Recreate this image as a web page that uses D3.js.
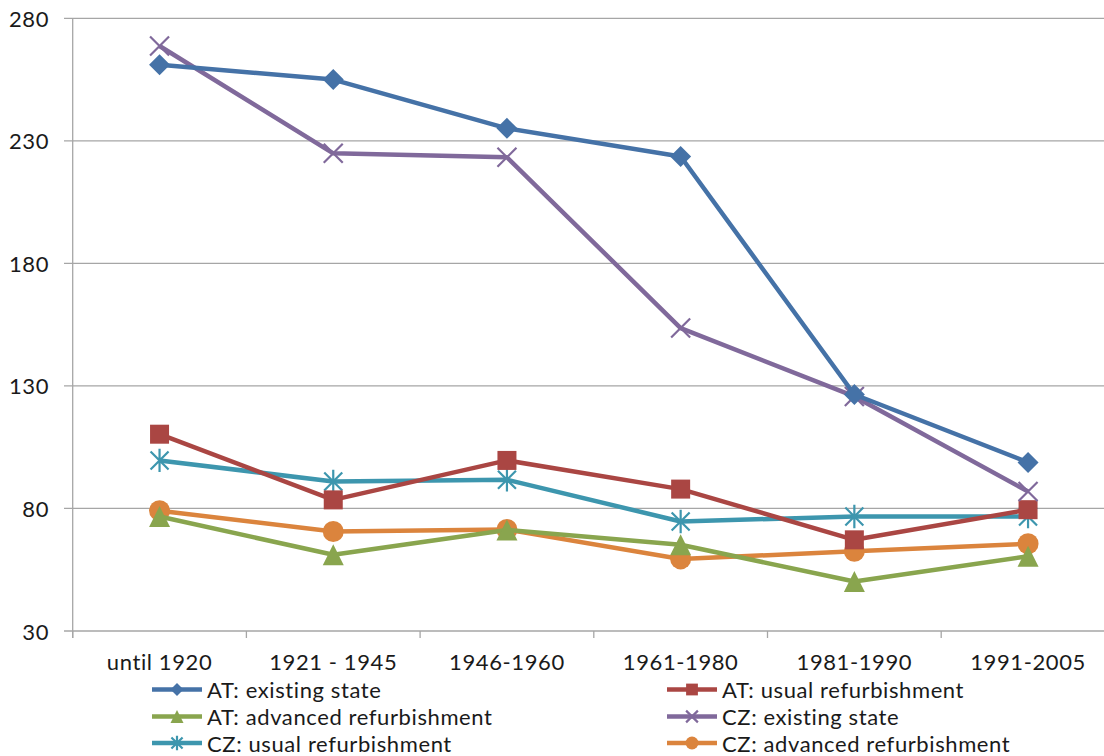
<!DOCTYPE html>
<html>
<head>
<meta charset="utf-8">
<script src="https://cdnjs.cloudflare.com/ajax/libs/d3/7.8.5/d3.min.js"></script>
<style>
  html, body { margin: 0; padding: 0; background: #fff; }
  svg { display: block; font-family: Lato, "Open Sans", sans-serif; }
  svg text { letter-spacing: 0.6px; }
</style>
</head>
<body>
<svg id="chart" width="1104" height="756"></svg>
<script>
// Building age categories
const categories = ["until 1920", "1921 - 1945", "1946-1960", "1961-1980", "1981-1990", "1991-2005"];

// Series values per category
const atExisting = [261.0, 255.0, 235.1, 223.6, 126.5, 98.8];
const atUsual    = [110.3, 83.5, 99.6, 87.9, 67.2, 79.5];
const atAdvanced = [76.7, 61.1, 71.2, 65.2, 50.2, 60.5];
const czExisting = [268.7, 224.9, 223.3, 153.6, 125.7, 86.9];
const czUsual    = [99.6, 91.0, 91.7, 74.7, 76.7, 76.7];
const czAdvanced = [79.1, 70.6, 71.4, 59.4, 62.5, 65.6];

const yTicks = [30, 80, 130, 180, 230, 280];

const series = [
  { name: "AT: existing state",          values: atExisting, color: "#4572A7", marker: "diamond" },
  { name: "AT: usual refurbishment",     values: atUsual,    color: "#AA4643", marker: "square" },
  { name: "AT: advanced refurbishment",  values: atAdvanced, color: "#89A54E", marker: "triangle" },
  { name: "CZ: existing state",          values: czExisting, color: "#80699B", marker: "cross" },
  { name: "CZ: usual refurbishment",     values: czUsual,    color: "#3D96AE", marker: "star" },
  { name: "CZ: advanced refurbishment",  values: czAdvanced, color: "#DB843D", marker: "circle" }
];

// Drawing order (first drawn ends up underneath)
const drawOrder = [5, 2, 4, 1, 3, 0];

const svg = d3.select("#chart");
const left = 72.7, step = 173.7;
const x = d3.scaleBand().domain(categories).range([left, left + step * categories.length]).padding(0);
const y = d3.scaleLinear().domain([30, 280]).range([631, 18.3]);

const gridColor = "#a6a6a6";
const fontSize = 22;

// horizontal gridlines
svg.append("g").selectAll("line").data(yTicks).join("line")
  .attr("x1", 64).attr("x2", 1104)
  .attr("y1", d => y(d)).attr("y2", d => y(d))
  .attr("stroke", gridColor).attr("stroke-width", 1.3);

// y axis line
svg.append("line")
  .attr("x1", left).attr("x2", left)
  .attr("y1", y(280)).attr("y2", y(30) + 7)
  .attr("stroke", gridColor).attr("stroke-width", 1.3);

// y tick labels
svg.append("g").selectAll("text").data(yTicks).join("text")
  .attr("x", 49).attr("y", d => y(d))
  .attr("text-anchor", "end").attr("dominant-baseline", "central")
  .attr("font-size", fontSize).attr("fill", "#1a1a1a")
  .text(d => d);

// x axis tick marks at category boundaries
const bounds = d3.range(categories.length + 1).map(i => left + i * step);
svg.append("g").selectAll("line").data(bounds).join("line")
  .attr("x1", d => d).attr("x2", d => d)
  .attr("y1", y(30)).attr("y2", y(30) + 7)
  .attr("stroke", gridColor).attr("stroke-width", 1.3);

// x labels
svg.append("g").selectAll("text").data(categories).join("text")
  .attr("x", d => x(d) + x.bandwidth() / 2).attr("y", 670)
  .attr("text-anchor", "middle")
  .attr("font-size", fontSize).attr("fill", "#1a1a1a")
  .text(d => d);

// marker shapes
function drawMarker(g, type, color, s) {
  const r = 10.5 * s;
  if (type === "diamond") {
    g.append("path").attr("d", `M0,${-r}L${r},0L0,${r}L${-r},0Z`).attr("fill", color);
  } else if (type === "square") {
    const h = 9.5 * s;
    g.append("rect").attr("x", -h).attr("y", -h).attr("width", 2 * h).attr("height", 2 * h).attr("fill", color);
  } else if (type === "triangle") {
    const h = 10.5 * s;
    g.append("path").attr("d", `M0,${-h}L${h},${h}L${-h},${h}Z`).attr("fill", color);
  } else if (type === "circle") {
    g.append("circle").attr("r", r).attr("fill", color);
  } else if (type === "cross") {
    const h = 9.5 * s;
    g.append("path").attr("d", `M${-h},${-h}L${h},${h}M${h},${-h}L${-h},${h}`)
      .attr("stroke", color).attr("stroke-width", 2.2).attr("fill", "none");
  } else if (type === "star") {
    const h = 9 * s;
    g.append("path").attr("d", `M${-h},${-h}L${h},${h}M${h},${-h}L${-h},${h}M0,${-h * 1.3}L0,${h * 1.3}`)
      .attr("stroke", color).attr("stroke-width", 2.2).attr("fill", "none");
  }
}

const line = d3.line()
  .x((d, i) => x(categories[i]) + x.bandwidth() / 2)
  .y(d => y(d));

const plot = svg.append("g");
drawOrder.forEach(idx => {
  const s = series[idx];
  plot.append("path")
    .datum(s.values)
    .attr("d", line)
    .attr("fill", "none")
    .attr("stroke", s.color)
    .attr("stroke-width", 4.5)
    .attr("stroke-linejoin", "round");
  s.values.forEach((v, i) => {
    const g = plot.append("g")
      .attr("transform", `translate(${x(categories[i]) + x.bandwidth() / 2},${y(v)})`);
    drawMarker(g, s.marker, s.color, 1);
  });
});

// legend: two columns, three rows
const legendPos = [
  { x: 152, y: 689.5 }, { x: 667, y: 689.5 },
  { x: 152, y: 716.5 }, { x: 667, y: 716.5 },
  { x: 152, y: 743 },   { x: 667, y: 743 }
];
const legend = svg.append("g");
series.forEach((s, i) => {
  const p = legendPos[i];
  const g = legend.append("g").attr("transform", `translate(${p.x},${p.y})`);
  g.append("line").attr("x1", 0).attr("x2", 50).attr("y1", 0).attr("y2", 0)
    .attr("stroke", s.color).attr("stroke-width", 4.5);
  const m = g.append("g").attr("transform", "translate(25,0)");
  drawMarker(m, s.marker, s.color, 0.62);
  g.append("text").attr("x", 55).attr("y", 0)
    .attr("dominant-baseline", "central")
    .attr("font-size", fontSize).attr("fill", "#1a1a1a")
    .text(s.name);
});
</script>
</body>
</html>
